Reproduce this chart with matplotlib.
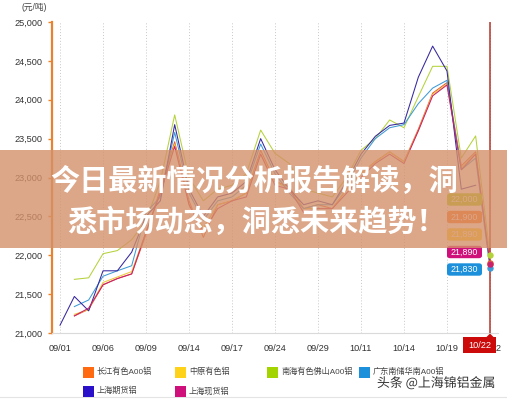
import numpy as np
import matplotlib
matplotlib.use("Agg")
import matplotlib.pyplot as plt
from matplotlib.patches import Rectangle, FancyBboxPatch, Polygon
import matplotlib.patheffects as pe

plt.rcParams['font.family'] = ['Liberation Sans', 'Noto Sans CJK SC', 'DejaVu Sans']

nan = np.nan

# trading days
dates = ["09/01", "09/02", "09/03", "09/06", "09/07", "09/08", "09/09", "09/10",
         "09/13", "09/14", "09/15", "09/16", "09/17", "09/22", "09/23", "09/24",
         "09/27", "09/28", "09/29", "09/30", "10/08", "10/11", "10/12", "10/13",
         "10/14", "10/15", "10/18", "10/19", "10/20", "10/21", "10/22"]

# prices, yuan / tonne
changjiang = [nan, 21220, 21305, 21620, 21700, 21760, 22270, 22850, 23460, 22700, 22230,
              22650, 22700, 22800, 23350, 22950, 22880, 22600, 22650, 22600, 22850,
              23050, 23205, 23330, 23205, 23620, 24085, 24220, 23150, 23330, 21900]
zhongyuan = [nan, 21240, 21300, 21650, 21720, 21790, 22300, 22800, 23430, 22650, 22350,
             22650, 22700, 22800, 23300, 22950, 22850, 22600, 22600, 22600, 22850,
             23050, 23200, 23330, 23200, 23600, 24070, 24200, 23120, 23310, 21890]
nanhai = [nan, 21690, 21710, 22020, 22060, 22200, 22450, 22950, 23805, 23000, 22700,
          22850, 22900, 23050, 23610, 23310, 23180, 22850, 22800, 22750, 23000,
          23350, 23500, 23740, 23640, 24040, 24430, 24430, 23250, 23535, 22000]
guangdong = [nan, 21340, 21425, 21730, 21800, 21865, 22550, 22750, 23580, 22800, 22450,
             22700, 22750, 22900, 23430, 23050, 22800, 22600, 22650, 22650, 22900,
             23250, 23500, 23640, 23680, 23950, 24150, 24250, 23100, 23250, 21830]
shfe = [21100, 21470, 21285, 21800, 21800, 22040, 22500, 22700, 23680, 22850, 22500,
        22750, 22800, 22950, 23500, 23100, 22850, 22650, 22700, 22650, 22950,
        23300, 23530, 23670, 23700, 24290, 24690, 24370, 22850, 22900, nan]
shanghai_spot = [nan, 21220, 21320, 21620, 21700, 21760, 22300, 22800, 23400, 22650, 22300,
                 22600, 22700, 22750, 23300, 22900, 22850, 22550, 22600, 22600, 22800,
                 23000, 23180, 23300, 23180, 23600, 24050, 24190, 23100, 23300, 21890]

series_names = ["长江有色A00铝", "中原有色铝", "南海有色佛山A00铝", "广东南储华南A00铝",
                "上海期货铝", "上海现货铝"]
series_values = [changjiang, zhongyuan, nanhai, guangdong, shfe, shanghai_spot]
series_colors = ["#EE5A28", "#F2C83A", "#B4D23A", "#3E9AD6", "#35279E", "#C8226E"]
legend_colors = ["#FF6A10", "#FFD21A", "#A4D400", "#1C90DA", "#2A10C8", "#D0107A"]

y_ticks = [21000, 21500, 22000, 22500, 23000, 23500, 24000, 24500, 25000]

W, H = 507, 400
fig = plt.figure(figsize=(W / 100, H / 100), dpi=100)
fig.patch.set_facecolor("white")


def fx(px):
    return px / W


def fy(py):
    return 1 - py / H


ax = fig.add_axes([fx(52), fy(333), 446 / W, 311 / H])
x = np.arange(len(dates))

for vals, col in zip(series_values, series_colors):
    v = np.array(vals, dtype=float)
    ax.plot(x, v, color=col, lw=0.75, zorder=3)
    if np.isfinite(v[-1]):
        ax.plot([x[-1]], [v[-1]], 'o', color=col, ms=3.6, zorder=5)

ax.axvline(x[-1], color="#B5342A", lw=1.1, zorder=4)

ax.set_xlim(-0.56, len(dates) - 1 + 0.56)
ax.set_ylim(y_ticks[0], y_ticks[-1])
ax.set_yticks(y_ticks)
ax.set_yticklabels([f"{t:,}" for t in y_ticks])
ax.set_xticks(x[::3])
ax.set_xticklabels(dates[::3])

for s in ("top", "right"):
    ax.spines[s].set_visible(False)
ax.spines["left"].set_color("#E8822E")
ax.spines["left"].set_linewidth(1.6)
ax.spines["bottom"].set_color("#DADADA")
ax.spines["bottom"].set_linewidth(0.8)
ax.tick_params(axis="y", length=3, width=1, color="#E8822E", pad=4,
               labelsize=6.6, labelcolor="#333333")
ax.tick_params(axis="x", length=0, pad=8, labelsize=6.6, labelcolor="#333333")
ax.xaxis.grid(True, linestyle=(0, (1, 2)), color="#C8C8C8", lw=0.7)
ax.set_axisbelow(True)

fig.text(fx(34), fy(7), "(元/吨)", ha="center", va="center", fontsize=6.2, color="#444444")

# value tags at the last date, sorted high to low
last = [(vals[-1], col) for vals, col in zip(series_values, legend_colors) if np.isfinite(vals[-1])]
last.sort(key=lambda t: -t[0])
for k, (val, col) in enumerate(last):
    cy = 199.5 + k * 17.5
    box = FancyBboxPatch((fx(447), fy(cy + 6.2)), 35 / W, 12.4 / H,
                         boxstyle="round,pad=0,rounding_size=0.006",
                         transform=fig.transFigure, facecolor=col, edgecolor="none",
                         zorder=2)
    fig.patches.append(box)
    fig.text(fx(464.5), fy(cy), f"{val:,.0f}", ha="center", va="center",
             fontsize=6.4, color="white", zorder=2.5)

# date tag under the cursor line
tag = Rectangle((fx(463), fy(353)), 33 / W, 16 / H, transform=fig.transFigure,
                facecolor="#CC0A0A", edgecolor="none", zorder=4)
fig.patches.append(tag)
tri = Polygon([[fx(486), fy(337.5)], [fx(494), fy(337.5)], [fx(490), fy(333.5)]],
              closed=True, transform=fig.transFigure, facecolor="#CC0A0A",
              edgecolor="none", zorder=4)
fig.patches.append(tri)
fig.text(fx(479.5), fy(345.3), dates[-1], ha="center", va="center", fontsize=6.6,
         color="white", zorder=4.5)

# legend
legend_pos = [(83, 372), (175, 372), (267, 372), (359, 372), (83, 391), (175, 391)]
for (lx, ly), name, col in zip(legend_pos, series_names, legend_colors):
    sq = Rectangle((fx(lx), fy(ly + 5.5)), 11 / W, 11 / H, transform=fig.transFigure,
                   facecolor=col, edgecolor="none", zorder=3)
    fig.patches.append(sq)
    fig.text(fx(lx + 14), fy(ly), name, ha="left", va="center", fontsize=5.9,
             color="#444444")

# headline banner
banner = Rectangle((0, fy(248)), 1, 98 / H, transform=fig.transFigure,
                   facecolor="#D4906A", edgecolor="none", alpha=0.8, zorder=5)
fig.patches.append(banner)
fig.text(fx(254), fy(180.5), "今日最新情况分析报告解读，洞", ha="center", va="center",
         fontsize=21.0, fontweight="bold", color="white", zorder=6,
         family=["Noto Sans CJK SC"])
fig.text(fx(256), fy(221.5), "悉市场动态，洞悉未来趋势！", ha="center", va="center",
         fontsize=21.0, fontweight="bold", color="white", zorder=6,
         family=["Noto Sans CJK SC"])

# source mark
fig.text(fx(436), fy(383), "头条 @上海锦铝金属", ha="center", va="center", fontsize=9.3,
         color="#333333", zorder=6, family=["Noto Sans CJK SC"],
         path_effects=[pe.withStroke(linewidth=2, foreground="white")])

fig.add_artist(plt.Line2D([0, 1], [fy(397), fy(397)], transform=fig.transFigure,
                          color="#E4E4E4", lw=0.8))

fig.savefig("out.png", dpi=100, facecolor="white")
